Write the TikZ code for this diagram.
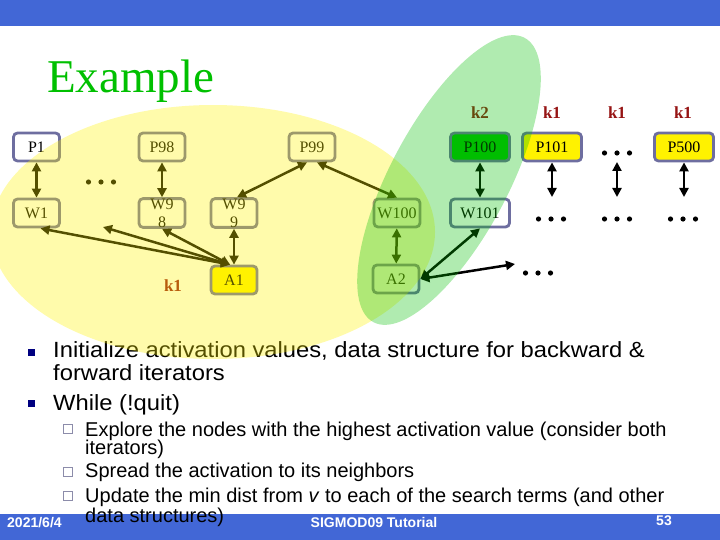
\documentclass[tikz,border=0pt]{standalone}
\usepackage{fontspec}
\setmainfont{Liberation Serif}
\setsansfont{Liberation Sans}
\newfontfamily\widesans{Liberation Sans}[FakeStretch=1.08]
\usetikzlibrary{arrows.meta}

\definecolor{barblue}{RGB}{66,103,214}
\definecolor{titlegreen}{RGB}{0,192,0}
\definecolor{boxline}{RGB}{110,110,160}
\definecolor{kred}{RGB}{150,20,20}
\definecolor{navy}{RGB}{0,0,128}
\definecolor{subsq}{RGB}{140,140,170}
\definecolor{hlgreen}{RGB}{0,190,0}

\newcommand{\threedots}{\tikz\foreach \i in {0,1,2} \fill (\i*12.5pt,0pt) circle (2.6pt);}

\tikzset{
  box/.style={draw=boxline, line width=2.8pt, rounded corners=4pt, minimum width=46pt,
    minimum height=28pt, inner sep=0pt, font=\fontsize{16}{18}\selectfont},
  widebox/.style={box, minimum width=59pt},
  link/.style={line width=2.5pt, {Triangle[length=9pt,width=9pt]}-{Triangle[length=9pt,width=9pt]}},
  klabel/.style={text=kred, inner sep=0pt, font=\bfseries\fontsize{17}{17}\selectfont},
  dotrow/.style={inner sep=0pt},
  bigbullet/.style={fill=navy, minimum size=7pt, inner sep=0pt},
  smallbox/.style={draw=subsq, line width=1pt, minimum size=9pt, inner sep=0pt},
  maintext/.style={anchor=base west, inner sep=0pt, font=\widesans\fontsize{22}{22}\selectfont},
  subtext/.style={anchor=base west, inner sep=0pt, font=\sffamily\fontsize{20}{20}\selectfont},
  foot/.style={text=white, inner sep=0pt, font=\sffamily\bfseries\fontsize{14}{14}\selectfont}
}

\begin{document}
\begin{tikzpicture}[x=1pt, y=-1pt]
  \useasboundingbox (0,0) rectangle (720,540);

  \fill[barblue] (0,0) rectangle (720,26);
  \fill[barblue] (0,514) rectangle (720,540);

  \node[anchor=base west, inner sep=0pt, text=titlegreen, font=\fontsize{47}{47}\selectfont] (title) at (47,93) {Example};

  % first group
  \node[box] (p1) at (36.5,147) {P1};
  \node[box] (w1) at (36.5,213) {W1};
  \node[dotrow] (gapdots) at (101,182) {\threedots};
  \node[box] (p98) at (162,147) {P98};
  \node[box, align=center] (w98) at (162,213) {W9\\8};
  \node[box] (p99) at (312,147) {P99};
  \node[box, align=center] (w99) at (234,213) {W9\\9};
  \node[box, fill=yellow] (a1) at (234,280) {A1};
  \node[klabel] (ka1) at (173,286) {k1};
  \coordinate (gap) at (103,227);

  % second group
  \node[box] (w100) at (397,213) {W100};
  \node[box] (a2) at (396,279) {A2};
  \node[widebox, fill=hlgreen] (p100) at (480,147) {P100};
  \node[widebox] (w101) at (480,213) {W101};
  \node[dotrow] (moredots) at (538,273) {\threedots};
  \coordinate (more) at (515,264);

  % right side
  \node[widebox, fill=yellow] (p101) at (552,147) {P101};
  \node[dotrow] (topdots) at (617,153) {\threedots};
  \node[widebox, fill=yellow] (p500) at (684,147) {P500};
  \node[dotrow] (dots101) at (551,219) {\threedots};
  \node[dotrow] (dotsmid) at (617,219) {\threedots};
  \node[dotrow] (dots500) at (683,219) {\threedots};
  \coordinate (c101) at (552,197);
  \coordinate (cmid) at (617,197);
  \coordinate (c500) at (684,197);

  \node[klabel] (k100) at (480,113) {k2};
  \node[klabel] (k101) at (552,113) {k1};
  \node[klabel] (kmid) at (617,113) {k1};
  \node[klabel] (k500) at (683,113) {k1};

  \draw[link] (p1) -- (w1);
  \draw[link] (p98) -- (w98);
  \draw[link] ([xshift=-5pt]p99.south) -- ([xshift=3pt]w99.north);
  \draw[link] ([xshift=5pt]p99.south) -- (w100.north);
  \draw[link] (w99) -- (a1);
  \draw[link] ([xshift=-4pt]a1.north) -- (w98.south);
  \draw[link] ([xshift=-4pt]a1.north) -- ([xshift=4pt]w1.south);
  \draw[link] ([xshift=-4pt]a1.north) -- (gap);
  \draw[link] (w100) -- (a2);
  \draw[link] (a2.east) -- (w101.south);
  \draw[link] (a2.east) -- (more);
  \draw[link] (p100) -- (w101);
  \draw[link] (p101) -- (c101);
  \draw[link] ([yshift=-9pt]topdots.center) -- (cmid);
  \draw[link] (p500) -- (c500);

  % text
  \node[bigbullet] (b1) at (31.5,352) {};
  \node[maintext] (init1) at (53,357) {Initialize activation values, data structure for backward \&};
  \node[maintext] (init2) at (53,380) {forward iterators};
  \node[bigbullet] (b2) at (31.5,403) {};
  \node[maintext] (loop) at (53,410) {While (!quit)};
  \node[smallbox] (s1) at (68,429) {};
  \node[subtext] (expl1) at (85,436) {Explore the nodes with the highest activation value (consider both};
  \node[subtext] (expl2) at (85,454) {iterators)};
  \node[smallbox] (s2) at (68,472) {};
  \node[subtext] (spread) at (85,477) {Spread the activation to its neighbors};
  \node[smallbox] (s3) at (68,496) {};
  \node[subtext] (upd1) at (85,502) {Update the min dist from \textit{v} to each of the search terms (and other};
  \node[subtext] (upd2) at (85,522) {data structures)};

  \node[foot, anchor=base west] (date) at (7,527) {2021/6/4};
  \node[foot, anchor=base] (event) at (374,527) {SIGMOD09 Tutorial};
  \node[foot, anchor=base] (page) at (664,525) {53};

  % highlighted regions
  \fill[yellow, fill opacity=0.33] (213,232) ellipse (222 and 127);
  \fill[hlgreen, fill opacity=0.31, rotate around={62:(449,180)}] (449,180) ellipse (161 and 59);
\end{tikzpicture}
\end{document}
